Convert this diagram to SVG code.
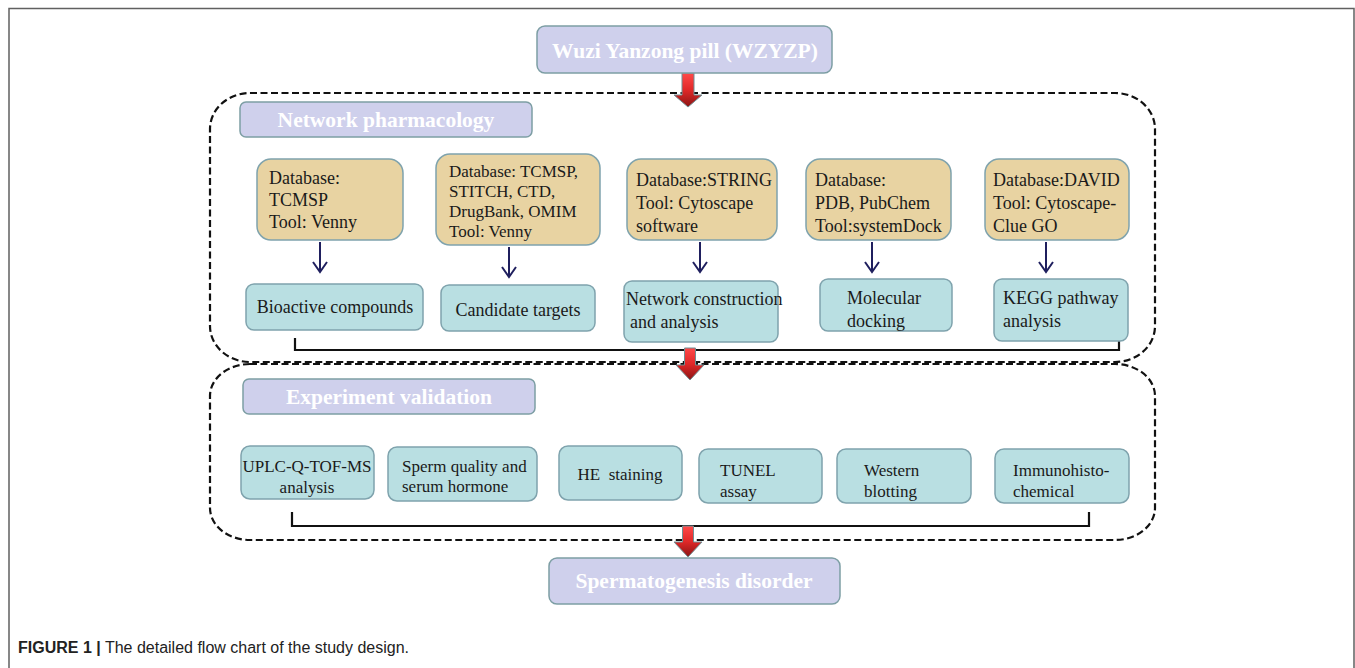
<svg xmlns="http://www.w3.org/2000/svg" width="1355" height="668" viewBox="0 0 1355 668">
<defs>
<style>
.frame{stroke:#606060;stroke-width:1.5;fill:none}
.dash{fill:none;stroke:#111;stroke-width:2.2;stroke-dasharray:7 3.5}
.lav{fill:#cfd0ec;stroke:#7d9ea4;stroke-width:1.5}
.tan{fill:#e8d3a2;stroke:#7fa3ad;stroke-width:1.5}
.blu{fill:#b9dfe2;stroke:#7fa3ad;stroke-width:1.5}
.ttl{font-family:"Liberation Serif",serif;font-weight:bold;font-size:21.5px;fill:#ffffff;text-anchor:middle}
.t{font-family:"Liberation Serif",serif;font-size:18px;fill:#1a1a1a}
.t17{font-family:"Liberation Serif",serif;font-size:17px;fill:#1a1a1a}
.c{text-anchor:middle}
.nav{stroke:#1f1f5e;stroke-width:2;fill:none}
.brk{stroke:#111;stroke-width:2.2;fill:none}
.red{fill:url(#rg);stroke:#6f9096;stroke-width:1}
.cap{font-family:"Liberation Sans",Arial,sans-serif;font-size:16px;fill:#222}
</style>
<linearGradient id="rg" x1="0" y1="0" x2="0" y2="1">
<stop offset="0" stop-color="#ff4a4a"/>
<stop offset="0.5" stop-color="#e02828"/>
<stop offset="1" stop-color="#8a1515"/>
</linearGradient>
<marker id="ah" markerUnits="userSpaceOnUse" markerWidth="14" markerHeight="16" refX="12" refY="8" orient="auto" viewBox="0 0 14 16">
<path d="M2,1 L12,8 L2,15" fill="none" stroke="#1f1f5e" stroke-width="2"/>
</marker>
</defs>
<rect width="1355" height="668" fill="#ffffff"/>
<path class="frame" d="M9,668 V8.5 H1354 V668"/>

<g id="containers">
<rect class="dash" x="210" y="93" width="945" height="269" rx="40" ry="36"/>
<rect class="dash" x="210" y="364" width="945" height="176" rx="40" ry="32"/>
</g>

<g id="connectors">
<path class="red" d="M682,73 H694 V95 H702 L688,107 L674,95 H682 Z"/>
<line class="nav" x1="320" y1="242" x2="320" y2="272" marker-end="url(#ah)"/>
<line class="nav" x1="509" y1="247" x2="509" y2="277" marker-end="url(#ah)"/>
<line class="nav" x1="700" y1="242" x2="700" y2="272" marker-end="url(#ah)"/>
<line class="nav" x1="872" y1="242" x2="872" y2="272" marker-end="url(#ah)"/>
<line class="nav" x1="1046" y1="242" x2="1046" y2="272" marker-end="url(#ah)"/>
<path class="brk" d="M295,338 V350 H1119 V338"/>
<path class="red" d="M684.5,348 H695.5 V365 H704 L690,380 L676,365 H684.5 Z"/>
<path class="brk" d="M292,512 V526 H1089 V512"/>
<path class="red" d="M682.5,526 H693.5 V542 H702 L688,557 L674,542 H682.5 Z"/>
</g>

<g id="n-wzyzp">
<rect class="lav" x="537" y="26" width="295" height="47" rx="8"/>
<text class="ttl" x="685" y="58">Wuzi Yanzong pill (WZYZP)</text>
</g>
<g id="n-netpharm">
<rect class="lav" x="240" y="102" width="292" height="35" rx="6"/>
<text class="ttl" x="386" y="127">Network pharmacology</text>
</g>

<g id="n-db1">
<rect class="tan" x="257" y="159" width="146" height="81" rx="14"/>
<text class="t" x="269" y="184">Database:</text>
<text class="t" x="269" y="206">TCMSP</text>
<text class="t" x="269" y="228">Tool: Venny</text>
</g>
<g id="n-db2">
<rect class="tan" x="436" y="154" width="164" height="91" rx="14"/>
<text class="t17" x="449" y="177">Database: TCMSP,</text>
<text class="t17" x="449" y="197">STITCH, CTD,</text>
<text class="t17" x="449" y="217">DrugBank, OMIM</text>
<text class="t17" x="449" y="237">Tool: Venny</text>
</g>
<g id="n-db3">
<rect class="tan" x="627" y="159" width="150" height="81" rx="14"/>
<text class="t" x="636" y="186">Database:STRING</text>
<text class="t" x="636" y="209">Tool: Cytoscape</text>
<text class="t" x="636" y="232">software</text>
</g>
<g id="n-db4">
<rect class="tan" x="806" y="159" width="145" height="81" rx="14"/>
<text class="t" x="815" y="186">Database:</text>
<text class="t" x="815" y="209">PDB, PubChem</text>
<text class="t" x="815" y="232">Tool:systemDock</text>
</g>
<g id="n-db5">
<rect class="tan" x="985" y="159" width="144" height="81" rx="14"/>
<text class="t" x="993" y="186">Database:DAVID</text>
<text class="t" x="993" y="209">Tool: Cytoscape-</text>
<text class="t" x="993" y="232">Clue GO</text>
</g>

<g id="n-bioactive">
<rect class="blu" x="246" y="284" width="177" height="46" rx="8"/>
<text class="t c" x="335" y="313">Bioactive compounds</text>
</g>
<g id="n-candidate">
<rect class="blu" x="441" y="285" width="154" height="46" rx="8"/>
<text class="t c" x="518" y="316">Candidate targets</text>
</g>
<g id="n-network">
<rect class="blu" x="624" y="281" width="154" height="61" rx="8"/>
<text class="t" x="626" y="305">Network construction</text>
<text class="t" x="630" y="328">and analysis</text>
</g>
<g id="n-docking">
<rect class="blu" x="820" y="279" width="132" height="52" rx="8"/>
<text class="t" x="847" y="304">Molecular</text>
<text class="t" x="847" y="327">docking</text>
</g>
<g id="n-kegg">
<rect class="blu" x="994" y="279" width="134" height="62" rx="8"/>
<text class="t" x="1003" y="304">KEGG pathway</text>
<text class="t" x="1003" y="327">analysis</text>
</g>

<g id="n-expval">
<rect class="lav" x="243" y="379" width="292" height="35" rx="6"/>
<text class="ttl" x="389" y="404">Experiment validation</text>
</g>

<g id="n-uplc">
<rect class="blu" x="241" y="446" width="133" height="53" rx="9"/>
<text class="t17 c" x="307" y="472">UPLC-Q-TOF-MS</text>
<text class="t17 c" x="307" y="493">analysis</text>
</g>
<g id="n-sperm">
<rect class="blu" x="388" y="447" width="149" height="54" rx="9"/>
<text class="t17" x="402" y="472">Sperm quality and</text>
<text class="t17" x="402" y="492">serum hormone</text>
</g>
<g id="n-he">
<rect class="blu" x="559" y="446" width="123" height="54" rx="9"/>
<text class="t17 c" x="620" y="480" xml:space="preserve">HE  staining</text>
</g>
<g id="n-tunel">
<rect class="blu" x="699" y="449" width="123" height="54" rx="9"/>
<text class="t17" x="720" y="476">TUNEL</text>
<text class="t17" x="720" y="497">assay</text>
</g>
<g id="n-western">
<rect class="blu" x="837" y="449" width="134" height="54" rx="9"/>
<text class="t17" x="864" y="476">Western</text>
<text class="t17" x="864" y="497">blotting</text>
</g>
<g id="n-immuno">
<rect class="blu" x="995" y="449" width="134" height="54" rx="9"/>
<text class="t17" x="1013" y="476">Immunohisto-</text>
<text class="t17" x="1013" y="497">chemical</text>
</g>

<g id="n-sperm-disorder">
<rect class="lav" x="549" y="558" width="291" height="46" rx="8"/>
<text class="ttl" x="694" y="588">Spermatogenesis disorder</text>
</g>

<text class="cap" x="18" y="653"><tspan font-weight="bold">FIGURE 1 |</tspan> The detailed flow chart of the study design.</text>
</svg>
